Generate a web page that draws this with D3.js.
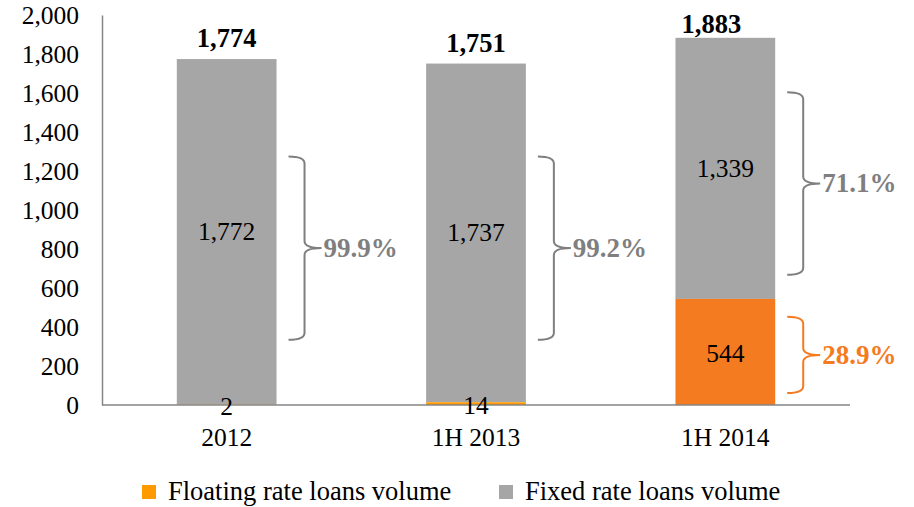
<!DOCTYPE html>
<html>
<head>
<meta charset="utf-8">
<script src="https://cdn.jsdelivr.net/npm/d3@7"></script>
<style>
  body { margin: 0; background: #fff; }
  svg text { font-family: "Liberation Serif", "Times New Roman", serif; }
</style>
</head>
<body>
<svg id="chart" width="914" height="507"></svg>
<script>
const categories = ["2012", "1H 2013", "1H 2014"];
const floating = [2, 14, 544];
const fixed = [1772, 1737, 1339];
const totals = [1774, 1751, 1883];
const yTicks = [0, 200, 400, 600, 800, 1000, 1200, 1400, 1600, 1800, 2000];
const floatingColors = ["#FF9900", "#FF9900", "#F47B20"];

// share brackets: category, value span covered, label, colour
const shares = [
  { cat: "2012", lo: 334, hi: 1275, label: "99.9%", color: "#7F7F7F" },
  { cat: "1H 2013", lo: 334, hi: 1275, label: "99.2%", color: "#7F7F7F" },
  { cat: "1H 2014", lo: 668, hi: 1604, label: "71.1%", color: "#7F7F7F" },
  { cat: "1H 2014", lo: 62, hi: 452, label: "28.9%", color: "#F47B20" }
];

const legendItems = [
  { name: "Floating rate loans volume", color: "#FF9900" },
  { name: "Fixed rate loans volume", color: "#A6A6A6" }
];

const fmt = d3.format(",");
const svg = d3.select("#chart");

const x = d3.scaleBand()
  .domain(categories)
  .range([102, 850])
  .paddingInner(0.6)
  .paddingOuter(0.3);

const y = d3.scaleLinear()
  .domain([0, 2000])
  .range([405, 15]);

// y axis
const yAxis = svg.append("g")
  .attr("transform", "translate(102,0)")
  .call(d3.axisLeft(y).tickValues(yTicks).tickFormat(fmt).tickSize(0).tickPadding(23))
  .attr("font-family", null)
  .attr("font-size", null);
yAxis.select(".domain").attr("stroke", "#868686").attr("stroke-width", 1.5);
yAxis.selectAll("text")
  .style("font-size", "25.5px")
  .attr("fill", "#000");

const rows = categories.map((c, i) => ({
  cat: c, floating: floating[i], fixed: fixed[i], total: totals[i], fcolor: floatingColors[i]
}));

// fixed segments
svg.append("g").selectAll("rect")
  .data(rows)
  .join("rect")
  .attr("x", d => x(d.cat))
  .attr("width", x.bandwidth())
  .attr("y", d => y(d.floating + d.fixed))
  .attr("height", d => y(d.floating) - y(d.floating + d.fixed))
  .attr("fill", "#A6A6A6");

// floating segments
svg.append("g").selectAll("rect")
  .data(rows)
  .join("rect")
  .attr("x", d => x(d.cat))
  .attr("width", x.bandwidth())
  .attr("y", d => y(d.floating))
  .attr("height", d => y(0) - y(d.floating))
  .attr("fill", d => d.fcolor);

// x axis line
svg.append("line")
  .attr("x1", 102).attr("x2", 850)
  .attr("y1", y(0)).attr("y2", y(0))
  .attr("stroke", "#868686").attr("stroke-width", 1.5);

// segment labels
const segLabels = svg.append("g")
  .attr("font-size", 25.5)
  .attr("text-anchor", "middle")
  .attr("dominant-baseline", "central");

segLabels.selectAll("text.fixed")
  .data(rows)
  .join("text")
  .attr("class", "fixed")
  .attr("x", d => x(d.cat) + x.bandwidth() / 2)
  .attr("y", d => (y(d.floating) + y(d.floating + d.fixed)) / 2)
  .text(d => fmt(d.fixed));

segLabels.selectAll("text.float")
  .data(rows)
  .join("text")
  .attr("class", "float")
  .attr("x", d => x(d.cat) + x.bandwidth() / 2)
  .attr("y", d => (y(0) + y(d.floating)) / 2 + 2)
  .text(d => fmt(d.floating));

// totals (the top one is pushed in by the plot edge, as in the original)
svg.append("g").selectAll("text")
  .data(rows)
  .join("text")
  .attr("x", d => x(d.cat) + x.bandwidth() / 2 - (y(d.total) - 12 < 33 ? 14 : 0))
  .attr("y", d => Math.max(y(d.total) - 12, 33))
  .attr("text-anchor", "middle")
  .attr("font-size", 26.5)
  .attr("font-weight", "bold")
  .text(d => fmt(d.total));

// category labels
svg.append("g").selectAll("text")
  .data(categories)
  .join("text")
  .attr("x", d => x(d) + x.bandwidth() / 2)
  .attr("y", 446)
  .attr("text-anchor", "middle")
  .attr("font-size", 25.5)
  .text(d => d);

// brackets
const bracket = s => {
  const right = x(s.cat) + x.bandwidth();
  const x0 = right + 12, x1 = right + 28, x2 = right + 45;
  const top = y(s.hi), bot = y(s.lo), mid = (top + bot) / 2, r = 7;
  return `M${x0},${top} Q${x1},${top} ${x1},${top + r} L${x1},${mid - r} Q${x1},${mid} ${x2},${mid}`
    + ` Q${x1},${mid} ${x1},${mid + r} L${x1},${bot - r} Q${x1},${bot} ${x0},${bot}`;
};

const br = svg.append("g").selectAll("g")
  .data(shares)
  .join("g");

br.append("path")
  .attr("d", bracket)
  .attr("fill", "none")
  .attr("stroke", d => d.color)
  .attr("stroke-width", 2);

br.append("text")
  .attr("x", d => x(d.cat) + x.bandwidth() + 47)
  .attr("y", d => (y(d.hi) + y(d.lo)) / 2)
  .attr("dominant-baseline", "central")
  .attr("font-size", 27)
  .attr("font-weight", "bold")
  .attr("fill", d => d.color)
  .text(d => d.label);

// legend
const legend = svg.append("g").selectAll("g")
  .data(legendItems)
  .join("g")
  .attr("transform", (d, i) => `translate(${[142, 499][i]},485)`);

legend.append("rect")
  .attr("width", 14).attr("height", 14)
  .attr("fill", d => d.color);

legend.append("text")
  .attr("x", 26)
  .attr("y", 15)
  .attr("font-size", 26.5)
  .text(d => d.name);
</script>
</body>
</html>
